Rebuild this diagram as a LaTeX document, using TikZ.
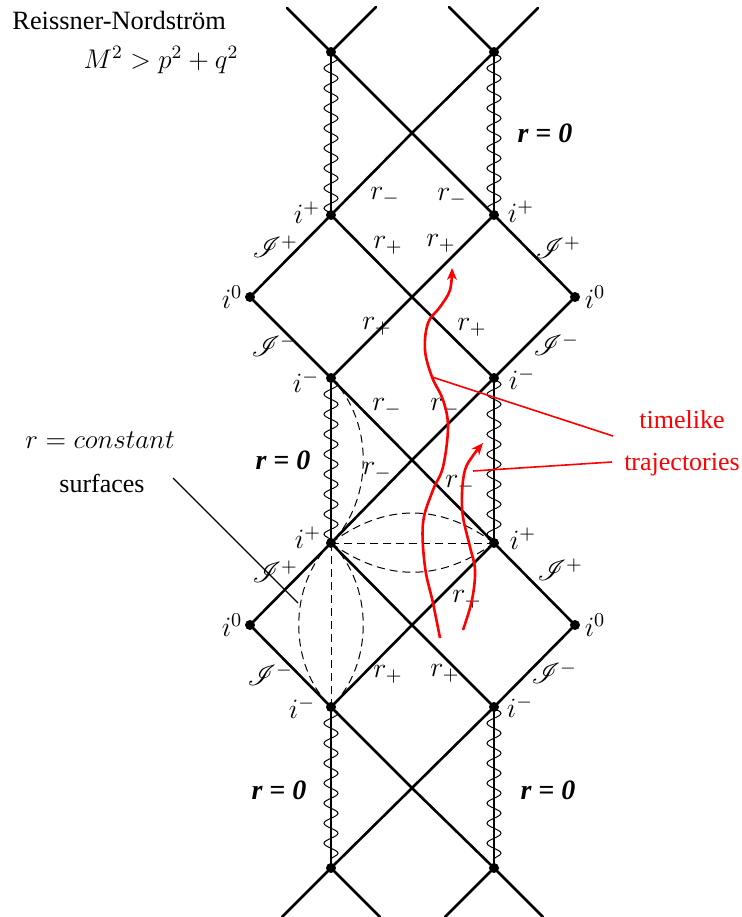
\RequirePackage{fix-cm}
\documentclass[tikz,border=0pt]{standalone}
\usepackage{fontspec}
\setmainfont{Liberation Serif}
\usepackage{mathrsfs}
\usetikzlibrary{decorations.pathmorphing,arrows.meta}
\begin{document}
\begin{tikzpicture}[x=0.5pt,y=-0.5pt,
  null/.style={line width=1.3pt,line cap=round,line join=round},
  dot/.style={circle,fill=black,inner sep=0pt,minimum size=5pt},
  lab/.style={inner sep=0pt,font=\fontsize{14}{16}\selectfont},
  txt/.style={inner sep=0pt,font=\fontsize{13}{15}\selectfont},
  sing/.style={line width=0.5pt,decorate,decoration={snake,segment length=10pt,amplitude=3.5pt}},
  axisline/.style={line width=0.6pt},
  dsh/.style={line width=0.5pt,dash pattern=on 4pt off 2.5pt},
  traj/.style={red,line width=1.3pt},
  lead/.style={red,line width=0.8pt},
  rz/.style={inner sep=0pt,font=\fontsize{14}{16}\selectfont\bfseries\itshape},
]
\useasboundingbox (0,0) rectangle (741,917);

% points
\coordinate (T1) at (331,52);   \coordinate (T2) at (494,52);
\coordinate (ipL1) at (331,215); \coordinate (ipR1) at (494,215);
\coordinate (i0L1) at (250,297); \coordinate (i0R1) at (575,297);
\coordinate (imL1) at (331,378); \coordinate (imR1) at (494,378);
\coordinate (ipL2) at (331,543); \coordinate (ipR2) at (494,543);
\coordinate (i0L2) at (250,625); \coordinate (i0R2) at (575,625);
\coordinate (imL2) at (331,707); \coordinate (imR2) at (494,707);
\coordinate (B1) at (331,868);  \coordinate (B2) at (494,868);
\coordinate (c1) at (412,133); \coordinate (c2) at (412,297);
\coordinate (c3) at (412,460); \coordinate (c4) at (412,625);
\coordinate (c5) at (412,788);
\coordinate (tA) at (287,8); \coordinate (tB) at (376,7);
\coordinate (tC) at (449,7); \coordinate (tD) at (538,8);
\coordinate (bA) at (282,917); \coordinate (bB) at (380,917);
\coordinate (bC) at (445,917); \coordinate (bD) at (543,917);

% null lines
\draw[null] (tA) -- (T1) -- (c1) -- (ipR1) -- (i0R1);
\draw[null] (tD) -- (T2) -- (c1) -- (ipL1) -- (i0L1);
\draw[null] (T1) -- (tB);
\draw[null] (T2) -- (tC);
\draw[null] (ipL1) -- (c2) -- (imR1);
\draw[null] (ipR1) -- (c2) -- (imL1);
\draw[null] (i0L1) -- (imL1) -- (c3) -- (ipR2) -- (i0R2);
\draw[null] (i0R1) -- (imR1) -- (c3) -- (ipL2) -- (i0L2);
\draw[null] (ipL2) -- (c4) -- (imR2);
\draw[null] (ipR2) -- (c4) -- (imL2);
\draw[null] (i0L2) -- (imL2) -- (c5) -- (B2) -- (bD);
\draw[null] (i0R2) -- (imR2) -- (c5) -- (B1) -- (bA);
\draw[null] (B1) -- (bB);
\draw[null] (B2) -- (bC);

% singularities
\foreach \a/\b in {T1/ipL1,T2/ipR1,imL1/ipL2,imR1/ipR2,imL2/B1,imR2/B2}{
  \draw[axisline] (\a) -- (\b);
  \draw[sing] (\a) -- (\b);
}

% r = constant surfaces (dashed)
\draw[dsh] (imL1) .. controls (374,420) and (374,500) .. (ipL2);
\draw[dsh] (ipL2) -- (ipR2);
\draw[dsh] (ipL2) .. controls (385,503) and (440,503) .. (ipR2);
\draw[dsh] (ipL2) .. controls (385,582) and (440,582) .. (ipR2);
\draw[dsh] (ipL2) -- (imL2);
\draw[dsh] (ipL2) .. controls (288,585) and (288,665) .. (imL2);
\draw[dsh] (ipL2) .. controls (374,585) and (374,665) .. (imL2);

% dots
\foreach \p in {T1,T2,ipL1,ipR1,i0L1,i0R1,imL1,imR1,ipL2,ipR2,i0L2,i0R2,imL2,imR2,B1,B2}{
  \node[dot] (d\p) at (\p) {};
}

% labels
\node[txt,anchor=west,font=\fontsize{13.2}{15}\selectfont] (title) at (12,20) {Reissner-Nordström};
\node[txt,font=\fontsize{13.5}{16}\selectfont] (cond) at (161,60) {$M^2 > p^2 + q^2$};

\node[lab] (lipL1) at (307,213) {$i^+$};
\node[lab] (lipR1) at (521,212) {$i^+$};
\node[lab] (li0L1) at (232,297) {$i^0$};
\node[lab] (li0R1) at (595,297) {$i^0$};
\node[lab] (limL1) at (306,382) {$i^-$};
\node[lab] (limR1) at (522,379) {$i^-$};
\node[lab] (lipL2) at (308,538) {$i^+$};
\node[lab] (lipR2) at (523,539) {$i^+$};
\node[lab] (li0L2) at (232,625) {$i^0$};
\node[lab] (li0R2) at (595,625) {$i^0$};
\node[lab] (limL2) at (302,708) {$i^-$};
\node[lab] (limR2) at (520,707) {$i^-$};

\node[lab] (sJ1) at (275,247) {$\mathscr{I}^+$};
\node[lab] (sJ2) at (558,248) {$\mathscr{I}^+$};
\node[lab] (sJ3) at (274,346) {$\mathscr{I}^-$};
\node[lab] (sJ4) at (556,345) {$\mathscr{I}^-$};
\node[lab] (sJ5) at (275,572) {$\mathscr{I}^+$};
\node[lab] (sJ6) at (560,570) {$\mathscr{I}^+$};
\node[lab] (sJ7) at (270,675) {$\mathscr{I}^-$};
\node[lab] (sJ8) at (554,673) {$\mathscr{I}^-$};

\node[lab] (rm1) at (385,196) {$r_-$};
\node[lab] (rm2) at (452,197) {$r_-$};
\node[lab] (rp1) at (388,245) {$r_+$};
\node[lab] (rp2) at (441,243) {$r_+$};
\node[lab] (rp3) at (377,326) {$r_+$};
\node[lab] (rp4) at (472,327) {$r_+$};
\node[lab] (rm3) at (387,407) {$r_-$};
\node[lab] (rm4) at (445,407) {$r_-$};
\node[lab] (rm5) at (377,471) {$r_-$};
\node[lab] (rm6) at (460,484) {$r_-$};
\node[lab] (rp5) at (467,599) {$r_+$};
\node[lab] (rp6) at (388,674) {$r_+$};
\node[lab] (rp7) at (445,673) {$r_+$};

\node[rz] (rz1) at (545,133) {r = 0};
\node[rz] (rz2) at (283,460) {r = 0};
\node[rz] (rz3) at (279,790) {r = 0};
\node[rz] (rz4) at (548,790) {r = 0};

\node[txt,font=\fontsize{13.5}{16}\selectfont] (rconst) at (100,440) {$r = constant$};
\node[txt] (surf) at (102,483) {surfaces};
\coordinate (sA) at (173,478);
\coordinate (sB) at (298,603);
\draw[line width=0.6pt] (sA) -- (sB);

% timelike trajectories
\draw[traj,-{Stealth[length=6pt,width=5pt]}] plot[smooth,tension=0.6] coordinates {
  (440,638) (433,603) (425,567) (423,523) (433,490) (443,467) (448,427)
  (443,400) (432,377) (425,350) (428,323) (440,307) (450,290) (452,268)};
\draw[traj,-{Stealth[length=6pt,width=5pt]}] plot[smooth,tension=0.6] coordinates {
  (463,630) (472,600) (475,570) (470,547) (463,517) (462,493) (465,470)
  (472,457) (483,443)};

\node[txt,text=red] (tl) at (682,420) {timelike};
\node[txt,text=red] (tr) at (682,465) {trajectories};
\coordinate (lA1) at (432,377); \coordinate (lB1) at (613,436);
\coordinate (lA2) at (473,471); \coordinate (lB2) at (612,462);
\draw[lead] (lA1) -- (lB1);
\draw[lead] (lA2) -- (lB2);
\end{tikzpicture}
\end{document}
